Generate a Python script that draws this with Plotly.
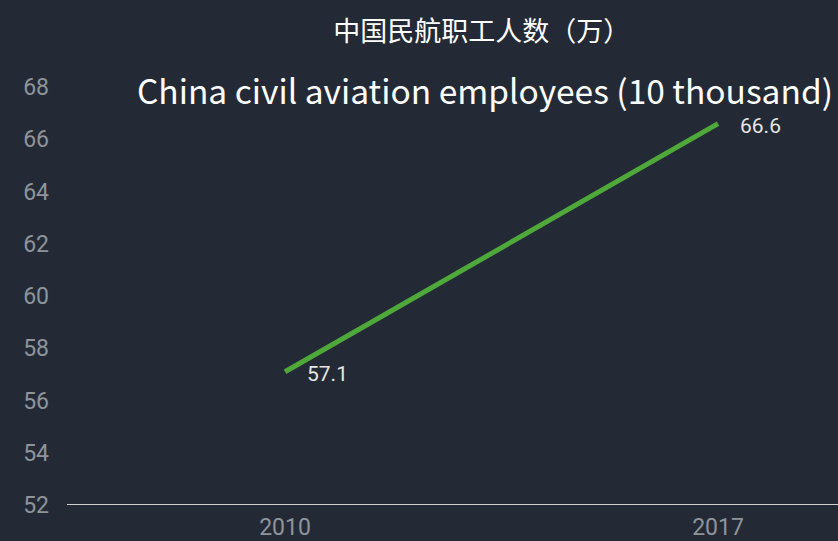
import plotly.graph_objects as go

years = ["2010", "2017"]
employees = [57.1, 66.6]
y_ticks = [52, 54, 56, 58, 60, 62, 64, 66, 68]

BG = "#232a35"
TICK_FONT = dict(family="Roboto", size=23, color="#8f949b")

fig = go.Figure()
fig.add_trace(go.Scatter(
    x=years, y=employees, mode="lines",
    line=dict(color="#4fa83a", width=5),
    hoverinfo="skip", showlegend=False,
))
for i, v in enumerate(employees):
    fig.add_annotation(x=i, y=v, text=f"{v}", showarrow=False,
                       xanchor="left", yanchor="middle", xshift=20, yshift=-2,
                       font=dict(family="Roboto", size=21, color="#e6e6e6"))

fig.add_annotation(xref="paper", yref="paper", x=0.542, y=0.993,
                   text="China civil aviation employees (10 thousand)",
                   showarrow=False, xanchor="center", yanchor="middle",
                   font=dict(family="Noto Sans CJK SC", size=33.5, color="#ffffff"))

fig.update_layout(
    width=838, height=541,
    paper_bgcolor=BG, plot_bgcolor=BG,
    margin=dict(l=67, r=0, t=87, b=36),
    title=dict(text="中国民航职工人数（万）", x=0.575, xref="container", xanchor="center",
               y=1 - 32 / 541, yref="container", yanchor="middle",
               font=dict(family="Noto Sans CJK SC", size=27, color="#ffffff")),
    xaxis=dict(type="category", range=[-0.5035, 1.277], showgrid=False, zeroline=False,
               showline=False, ticks="", tickfont=TICK_FONT, ticklabelstandoff=6),
    yaxis=dict(range=[52, 68], tickvals=y_ticks, showgrid=False, zeroline=False,
               showline=False, ticks="", tickfont=TICK_FONT, ticklabelstandoff=17),
    shapes=[dict(type="line", xref="paper", yref="y", x0=0, x1=1, y0=52, y1=52,
                 line=dict(color="#d0d0d0", width=2))],
)
fig.write_html("out.html", config={"displayModeBar": False},
               post_script="document.body.style.margin='0';")
